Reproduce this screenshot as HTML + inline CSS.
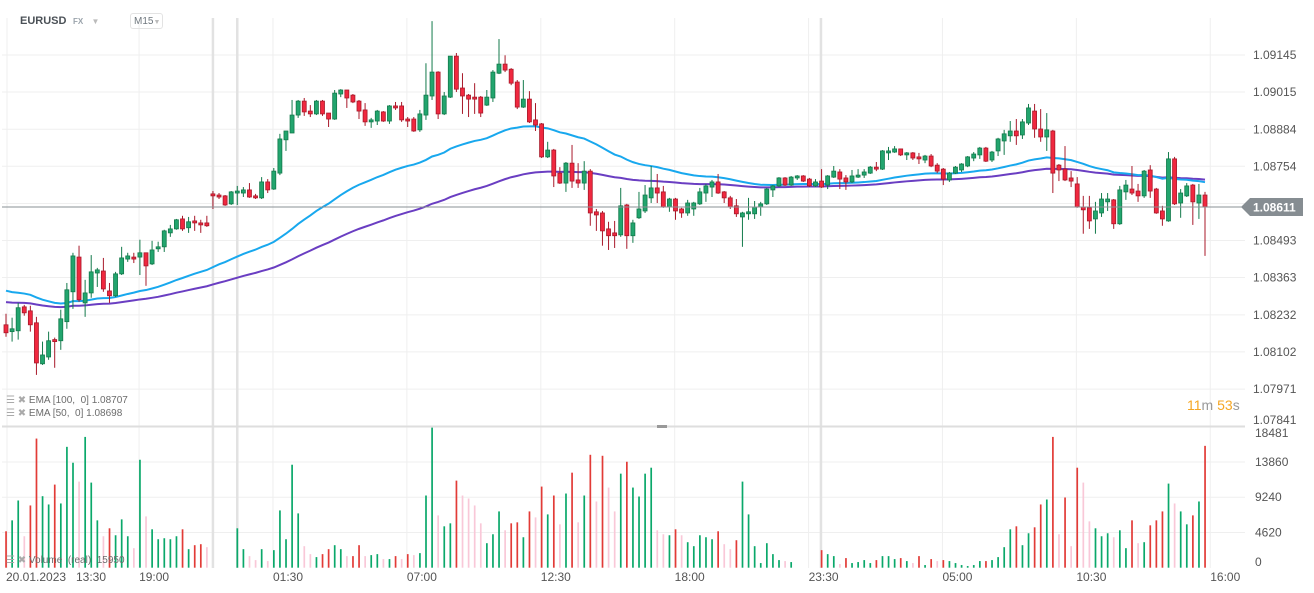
<!DOCTYPE html>
<html><head><meta charset="utf-8"><style>
html,body{margin:0;padding:0;background:#fff;width:1314px;height:593px;overflow:hidden;font-family:"Liberation Sans",sans-serif}
svg{position:absolute;left:0;top:0}
.hdr{position:absolute;font-family:"Liberation Sans",sans-serif}
</style></head><body>
<svg id="chart" width="1314" height="593" viewBox="0 0 1314 593"></svg>
<div class="hdr" style="left:20px;top:15px;font-size:11px;font-weight:bold;color:#4b5157">EURUSD</div>
<div class="hdr" style="left:73px;top:17px;font-size:8px;font-weight:bold;color:#9aa3ab">FX <span style="color:#bbb;margin-left:6px">▼</span></div>
<div class="hdr" style="left:130px;top:13px;width:33px;height:16px;border:1px solid #e3e3e3;border-radius:3px;font-size:10px;color:#6f777e;line-height:16px;padding-left:3px;box-sizing:border-box">M15<span style="font-size:7px;color:#bbb">▼</span></div>
<div class="hdr" style="left:6px;top:395px;font-size:10px;color:#6c6c6c"><span style="color:#aaa">☰ ✖</span> EMA [100,&nbsp; 0] 1.08707</div>
<div class="hdr" style="left:6px;top:408px;font-size:10px;color:#6c6c6c"><span style="color:#aaa">☰ ✖</span> EMA [50,&nbsp; 0] 1.08698</div>
<div class="hdr" style="left:6px;top:555px;font-size:10px;color:#6c6c6c"><span style="color:#aaa">☰ ✖</span> Volume&nbsp; (real)&nbsp; 15950</div>
<div class="hdr" style="left:1187px;top:397px;font-size:14px;color:#f5a623">11<span style="color:#999">m</span> 53<span style="color:#999">s</span></div>
<script>
const opens=[1.08197,1.08173,1.08176,1.08260,1.08246,1.08204,1.08060,1.08084,1.08145,1.08141,
1.08208,1.08313,1.08435,1.08274,1.08309,1.08379,1.08386,1.08316,1.08299,1.08376,
1.08428,1.08435,1.08435,1.08450,1.08411,1.08464,1.08471,1.08520,1.08534,1.08569,
1.08538,1.08562,1.08555,1.08555,1.08657,1.08653,1.08650,1.08622,1.08660,1.08660,
1.08671,1.08650,1.08643,1.08699,1.08674,1.08730,1.08847,1.08871,1.08934,1.08983,
1.08948,1.08938,1.08983,1.08941,1.08920,1.09008,1.09022,1.09004,1.08983,1.08952,
1.08910,1.08913,1.08945,1.08913,1.08966,1.08966,1.08920,1.08920,1.08882,1.08934,
1.09001,1.09085,1.08938,1.08997,1.09141,1.09029,1.09004,1.08997,1.08997,1.08969,
1.08994,1.09081,1.09113,1.09095,1.09050,1.08962,1.08990,1.08917,1.08903,1.08787,
1.08811,1.08730,1.08695,1.08765,1.08706,1.08695,1.08737,1.08594,1.08590,1.08534,
1.08520,1.08513,1.08618,1.08510,1.08573,1.08597,1.08643,1.08678,1.08664,1.08611,
1.08639,1.08604,1.08590,1.08604,1.08622,1.08660,1.08681,1.08699,1.08664,1.08643,
1.08615,1.08576,1.08587,1.08587,1.08611,1.08622,1.08671,1.08685,1.08713,1.08688,
1.08713,1.08720,1.08709,1.08685,1.08702,1.08688,1.08716,1.08734,1.08713,1.08699,
1.08716,1.08723,1.08730,1.08751,1.08744,1.08801,1.08804,1.08815,1.08794,1.08801,
1.08787,1.08776,1.08790,1.08758,1.08744,1.08706,1.08730,1.08741,1.08755,1.08783,
1.08794,1.08818,1.08776,1.08808,1.08843,1.08861,1.08878,1.08864,1.08906,1.08948,
1.08885,1.08857,1.08878,1.08758,1.08744,1.08713,1.08692,1.08611,1.08608,1.08569,
1.08590,1.08629,1.08636,1.08552,1.08664,1.08674,1.08667,1.08650,1.08741,1.08674,
1.08597,1.08562,1.08780,1.08625,1.08650,1.08688,1.08625,1.08653];
const closes=[1.08169,1.08183,1.08257,1.08239,1.08197,1.08063,1.08091,1.08141,1.08138,1.08218,
1.08320,1.08439,1.08285,1.08309,1.08383,1.08390,1.08323,1.08299,1.08376,1.08432,
1.08439,1.08428,1.08450,1.08404,1.08460,1.08471,1.08527,1.08534,1.08566,1.08534,
1.08559,1.08555,1.08548,1.08545,1.08650,1.08646,1.08618,1.08664,1.08667,1.08671,
1.08646,1.08643,1.08699,1.08671,1.08737,1.08850,1.08878,1.08934,1.08983,1.08945,
1.08938,1.08983,1.08938,1.08920,1.09011,1.09022,1.08994,1.08980,1.08948,1.08910,
1.08917,1.08948,1.08913,1.08966,1.08959,1.08917,1.08913,1.08878,1.08938,1.09004,
1.09085,1.08938,1.09001,1.09141,1.09025,1.09001,1.08990,1.08990,1.08941,1.08997,
1.09085,1.09113,1.09092,1.09046,1.08962,1.08990,1.08910,1.08899,1.08787,1.08811,
1.08720,1.08695,1.08765,1.08702,1.08695,1.08737,1.08590,1.08583,1.08527,1.08510,
1.08510,1.08615,1.08510,1.08555,1.08604,1.08653,1.08678,1.08660,1.08611,1.08639,
1.08597,1.08590,1.08625,1.08625,1.08664,1.08685,1.08699,1.08660,1.08643,1.08611,
1.08587,1.08590,1.08594,1.08611,1.08622,1.08674,1.08685,1.08713,1.08688,1.08716,
1.08720,1.08702,1.08685,1.08699,1.08681,1.08720,1.08737,1.08709,1.08699,1.08720,
1.08723,1.08734,1.08751,1.08744,1.08808,1.08808,1.08815,1.08794,1.08801,1.08783,
1.08780,1.08790,1.08755,1.08737,1.08709,1.08730,1.08751,1.08762,1.08787,1.08797,
1.08818,1.08772,1.08804,1.08850,1.08868,1.08878,1.08861,1.08910,1.08959,1.08885,
1.08857,1.08882,1.08730,1.08741,1.08706,1.08702,1.08611,1.08601,1.08562,1.08597,
1.08639,1.08639,1.08552,1.08671,1.08688,1.08660,1.08650,1.08737,1.08667,1.08590,
1.08569,1.08780,1.08622,1.08660,1.08685,1.08629,1.08653,1.08611];
const highs=[1.08236,1.08222,1.08274,1.08267,1.08264,1.08225,1.08138,1.08173,1.08152,1.08250,
1.08344,1.08450,1.08475,1.08355,1.08442,1.08397,1.08432,1.08344,1.08383,1.08471,
1.08450,1.08450,1.08496,1.08450,1.08492,1.08489,1.08531,1.08548,1.08569,1.08580,
1.08576,1.08580,1.08566,1.08580,1.08667,1.08660,1.08653,1.08667,1.08685,1.08681,
1.08695,1.08657,1.08716,1.08709,1.08748,1.08868,1.08878,1.08987,1.08987,1.08994,
1.08969,1.08987,1.08987,1.08941,1.09022,1.09025,1.09022,1.09008,1.08987,1.08976,
1.08924,1.08952,1.08948,1.08969,1.08980,1.08980,1.08927,1.08927,1.08952,1.09116,
1.09264,1.09088,1.09015,1.09141,1.09152,1.09081,1.09008,1.09046,1.09001,1.09022,
1.09092,1.09201,1.09144,1.09099,1.09057,1.09057,1.09018,1.08976,1.08906,1.08840,
1.08815,1.08751,1.08769,1.08829,1.08765,1.08772,1.08744,1.08604,1.08597,1.08559,
1.08562,1.08678,1.08622,1.08566,1.08664,1.08688,1.08755,1.08727,1.08685,1.08643,
1.08643,1.08608,1.08636,1.08629,1.08678,1.08692,1.08706,1.08727,1.08667,1.08650,
1.08639,1.08594,1.08643,1.08632,1.08629,1.08678,1.08688,1.08716,1.08716,1.08720,
1.08723,1.08723,1.08713,1.08709,1.08744,1.08723,1.08755,1.08744,1.08723,1.08741,
1.08744,1.08744,1.08755,1.08769,1.08811,1.08822,1.08825,1.08815,1.08804,1.08804,
1.08801,1.08794,1.08797,1.08765,1.08748,1.08734,1.08755,1.08765,1.08790,1.08804,
1.08822,1.08822,1.08808,1.08854,1.08882,1.08913,1.08920,1.08920,1.08973,1.08973,
1.08955,1.08941,1.08882,1.08762,1.08825,1.08737,1.08716,1.08650,1.08650,1.08629,
1.08660,1.08660,1.08639,1.08685,1.08706,1.08755,1.08692,1.08741,1.08758,1.08678,
1.08615,1.08804,1.08787,1.08674,1.08695,1.08692,1.08692,1.08664];
const lows=[1.08155,1.08138,1.08145,1.08229,1.08173,1.08021,1.08056,1.08074,1.08046,1.08109,
1.08183,1.08253,1.08278,1.08225,1.08292,1.08330,1.08313,1.08274,1.08295,1.08372,
1.08418,1.08414,1.08372,1.08334,1.08407,1.08453,1.08453,1.08506,1.08531,1.08527,
1.08520,1.08527,1.08520,1.08541,1.08604,1.08639,1.08615,1.08618,1.08618,1.08646,
1.08643,1.08639,1.08639,1.08660,1.08671,1.08723,1.08808,1.08871,1.08924,1.08931,
1.08927,1.08934,1.08931,1.08892,1.08917,1.08997,1.08959,1.08976,1.08920,1.08896,
1.08889,1.08899,1.08910,1.08903,1.08952,1.08910,1.08892,1.08875,1.08875,1.08917,
1.08987,1.08920,1.08934,1.08994,1.09015,1.08938,1.08927,1.08938,1.08927,1.08966,
1.08980,1.09078,1.09085,1.09039,1.08955,1.08959,1.08906,1.08878,1.08783,1.08783,
1.08681,1.08692,1.08664,1.08678,1.08678,1.08671,1.08545,1.08527,1.08475,1.08460,
1.08467,1.08506,1.08464,1.08485,1.08569,1.08590,1.08625,1.08625,1.08608,1.08594,
1.08566,1.08573,1.08580,1.08580,1.08618,1.08629,1.08646,1.08657,1.08625,1.08604,
1.08576,1.08471,1.08566,1.08569,1.08580,1.08618,1.08646,1.08681,1.08685,1.08685,
1.08706,1.08699,1.08681,1.08681,1.08678,1.08674,1.08713,1.08674,1.08671,1.08695,
1.08713,1.08713,1.08727,1.08737,1.08741,1.08776,1.08801,1.08790,1.08776,1.08776,
1.08762,1.08765,1.08751,1.08730,1.08688,1.08699,1.08727,1.08734,1.08751,1.08772,
1.08780,1.08769,1.08769,1.08790,1.08794,1.08840,1.08829,1.08850,1.08899,1.08854,
1.08840,1.08808,1.08660,1.08702,1.08702,1.08681,1.08608,1.08517,1.08534,1.08517,
1.08576,1.08597,1.08534,1.08548,1.08636,1.08653,1.08629,1.08643,1.08643,1.08587,
1.08545,1.08559,1.08618,1.08573,1.08646,1.08548,1.08569,1.08439];
const volumes=[4774,6206,8810,4123,8159,16926,9374,8289,10893,8420,15841,13758,11284,17143,11154,6206,4123,5165,4253,6336,4123,2561,14148,6727,5034,3732,3863,3732,4123,5034,2430,2951,3081,2691,
0,0,0,0,
5165,2430,1519,998,2430,868,2300,7508,3732,13497,7118,2821,1779,1389,1779,2430,2951,2430,1519,1519,2951,1519,1649,1779,1128,1128,1519,1128,1779,
1649,1910,9461,18358,6857,5425,5816,11414,9461,9071,8159,5816,3212,4383,7378,4904,5816,5946,3993,7378,6597,10633,6987,9461,5685,9722,12456,5946,9461,14799,8680,14669,10503,7378,12326,13888,10503,9331,12326,13107,4904,4383,4253,5034,4253,3342,2821,4253,3993,3732,4774,3081,2430,3602,11284,6987,2821,608,3212,1779,998,868,738,
0,0,0,0,
2300,1779,1519,477,1259,608,738,998,608,998,1519,1519,1128,1259,868,608,1519,347,1128,868,998,868,608,347,217,347,868,868,998,1389,2691,5034,5425,2951,4514,5295,8289,8940,17143,4383,9201,2821,13107,11154,6076,5165,4123,4514,3993,4904,2561,6206,3212,3342,5555,6206,7378,11024,8420,7378,5685,6857,8680,15971];
const priceTicks=[1.09145,1.09015,1.08884,1.08754,1.08623,1.08493,1.08363,1.08232,1.08102,1.07971];
const priceTickLabels=["1.09145","1.09015","1.08884","1.08754","1.08623","1.08493","1.08363","1.08232","1.08102","1.07971"];
const volumeTicks=[18481,13860,9240,4620,0];
const timeLabels=["20.01.2023","13:30","19:00","01:30","07:00","12:30","18:00","23:30","05:00","10:30","16:00"];
const timeLabelIndex=[0,11.5,21.7,43.7,65.7,87.7,109.7,131.7,153.7,175.7,197.7];
const gridIndex=[0,21.7,43.7,65.7,87.7,109.7,131.7,153.7,175.7,197.7];
const sessionIndex=[34.0,38.0,133.9];
const ema50Seed=1.08323, ema100Seed=1.08279;
const lastPrice=1.08611;

const NS="http://www.w3.org/2000/svg";
const svg=document.getElementById('chart');
const N=closes.length;
const X0=6, X1=1205;
function xAt(i){return X0+i*(X1-X0)/(N-1);}
function yP(p){return 55+(1.09145-p)*28460;}
const VTOP=426.7, VBOT=567.7, VMAX=18481;
function yV(v){return VBOT-v*(VBOT-VTOP)/VMAX;}
function mk(tag,attrs,parent){const e=document.createElementNS(NS,tag);for(const k in attrs)e.setAttribute(k,attrs[k]);(parent||svg).appendChild(e);return e;}

const grid=mk('g',{});


priceTicks.forEach(p=>{mk('line',{x1:2,x2:1245,y1:yP(p),y2:yP(p),stroke:'#efefef','stroke-width':1},grid);});
volumeTicks.slice(1,4).forEach(v=>{mk('line',{x1:2,x2:1245,y1:yV(v),y2:yV(v),stroke:'#efefef','stroke-width':1},grid);});
gridIndex.forEach(i=>{const x=xAt(i)+1;mk('line',{x1:x,x2:x,y1:18,y2:568,stroke:'#efefef','stroke-width':1},grid);});
sessionIndex.forEach(i=>{const x=xAt(i);const l=mk('line',{x1:x,x2:x,y1:18,y2:568,stroke:'#e2e2e2','stroke-width':2.5},grid);

});
const sep=mk('line',{x1:2,x2:1245,y1:426.5,y2:426.5,stroke:'#dedede','stroke-width':2});


const handle=mk('rect',{x:657,y:425,width:10,height:3,fill:'#999'});



const vg=mk('g',{});


volumes.forEach((v,i)=>{if(v<=0)return;
 const up=closes[i]>=opens[i];const prev=i>0?volumes[i-1]:0;
 const col=up?'#0aa86a':(v>=prev?'#e23b37':'#f9c8d8');
 const r=mk('rect',{x:xAt(i)-0.8,y:yV(v),width:1.7,height:VBOT-yV(v),fill:col},vg);
 
 
});

function ema(seed,period){const a=2/(period+1);let e=seed;return closes.map(c=>{e=e+a*(c-e);return e;});}
const e50=ema(ema50Seed,50), e100=ema(ema100Seed,100);
const l100=mk('polyline',{points:e100.map((v,i)=>xAt(i)+','+yP(v)).join(' '),fill:'none',stroke:'#6a3ec2','stroke-width':2});


const l50=mk('polyline',{points:e50.map((v,i)=>xAt(i)+','+yP(v)).join(' '),fill:'none',stroke:'#18a8ee','stroke-width':2});



const cg=mk('g',{});


for(let i=0;i<N;i++){
 const up=closes[i]>=opens[i];const x=xAt(i);
 const stroke=up?'#137a4b':'#a8192a', fill=up?'#22a56e':'#f0283f';
 const g=mk('g',{},cg);
 
 
 mk('line',{x1:x,x2:x,y1:yP(highs[i]),y2:yP(lows[i]),stroke:stroke,'stroke-width':1},g);
 const top=yP(Math.max(opens[i],closes[i])),bot=yP(Math.min(opens[i],closes[i]));
 mk('rect',{x:x-2,y:top,width:4,height:Math.max(1,bot-top),fill:fill,stroke:stroke,'stroke-width':0.8},g);
}

const cp=mk('line',{x1:2,x2:1243,y1:yP(lastPrice),y2:yP(lastPrice),stroke:'#8a9095','stroke-width':1});


const cy=yP(lastPrice);
const tag=mk('polygon',{points:`1241,${cy} 1250,${cy-9} 1303,${cy-9} 1303,${cy+9} 1250,${cy+9}`,fill:'#868d92'});


const tt=mk('text',{x:1253,y:cy+4.5,'font-size':12,'font-weight':'bold',fill:'#fff','font-family':'Liberation Sans, sans-serif'});
tt.textContent=lastPrice.toFixed(5);



priceTicks.forEach((p,k)=>{if(Math.abs(yP(p)-cy)<10)return;
 const t=mk('text',{x:1253,y:yP(p)+4,'font-size':12,fill:'#555','font-family':'Liberation Sans, sans-serif'});
 t.textContent=priceTickLabels[k];
 
 });
const t7=mk('text',{x:1253,y:424,'font-size':12,fill:'#555','font-family':'Liberation Sans, sans-serif'});
t7.textContent='1.07841';


volumeTicks.forEach(v=>{let y=yV(v)+4;y=Math.min(Math.max(y,437),566);
 const t=mk('text',{x:1255,y:y,'font-size':12,fill:'#555','font-family':'Liberation Sans, sans-serif'});
 t.textContent=String(v);
 
 });
timeLabels.forEach((s,k)=>{const x=k===0?6:(k===1?76:xAt(timeLabelIndex[k])+1);
 const t=mk('text',{x:x,y:581,'font-size':12,fill:'#555','font-family':'Liberation Sans, sans-serif'});
 t.textContent=s;
 
 });
</script>
</body></html>
